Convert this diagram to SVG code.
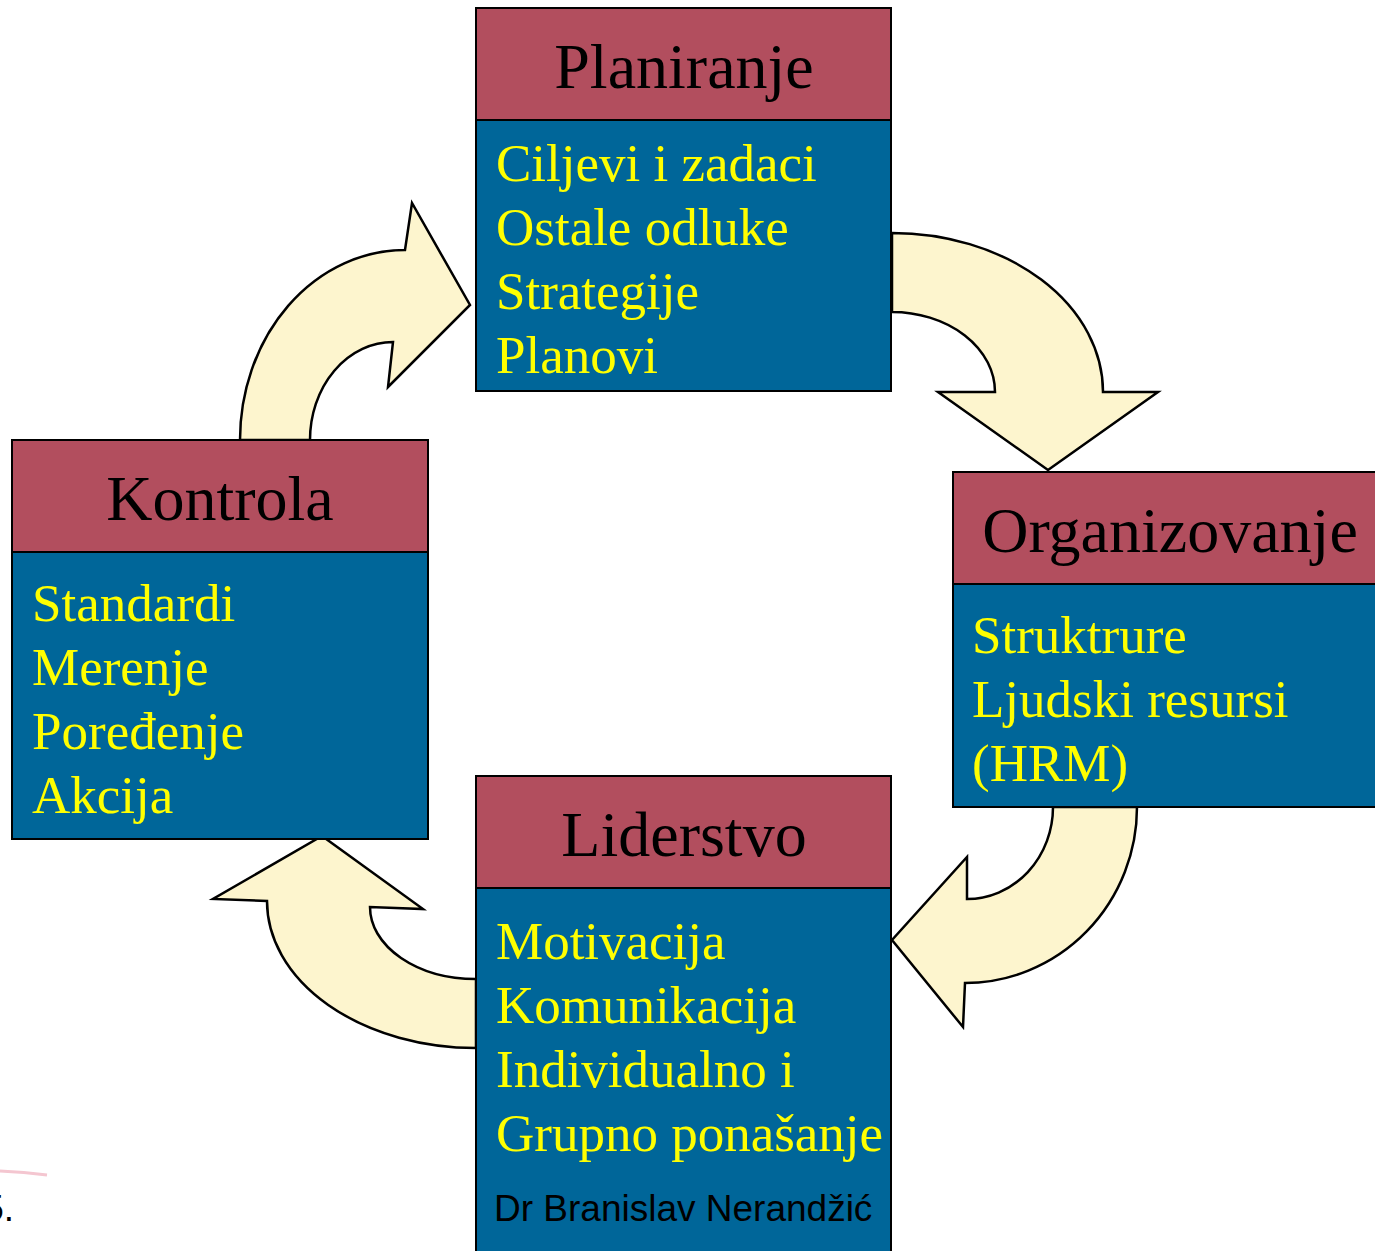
<svg xmlns="http://www.w3.org/2000/svg" width="1375" height="1251" viewBox="0 0 1375 1251">
<style>
.hdr{fill:#B24E5E;stroke:#000;stroke-width:2}
.body{fill:#006699;stroke:#000;stroke-width:2}
.arrow{fill:#FDF5CE;stroke:#000;stroke-width:2.5;stroke-linejoin:miter}
.ht{font-family:"Liberation Serif",serif;font-size:64px;fill:#000;text-anchor:middle}
.bt{font-family:"Liberation Serif",serif;font-size:53px;fill:#FFFF00}
.sig{font-family:"Liberation Sans",Arial,sans-serif;font-size:37px;fill:#000}
</style>
<rect width="1375" height="1251" fill="#fff"/>
<g id="connectors">
<path class="arrow" d="M240,440 A165,190 0 0 1 405,250 L412,203 L470,305 L388,387 L393,342 A83,98 0 0 0 310,440 Z"/>
<path class="arrow" d="M892,233 A211,159 0 0 1 1103,392 L1158,392 L1048,470 L938,392 L995,392 A103,80 0 0 0 892,312 Z"/>
<path class="arrow" d="M1137,807 A172,176 0 0 1 965,983 L963,1027 L892,940 L967,857 L967,899 A86,92 0 0 0 1053,807 Z"/>
<path class="arrow" d="M476,1048 A209,147 0 0 1 267,901 L213,899 L322,836 L423,909 L370,907 A106,72 0 0 0 476,979 Z"/>
</g>
<g id="planiranje">
<rect class="hdr" x="476" y="8" width="415" height="112"/>
<rect class="body" x="476" y="120" width="415" height="271"/>
<text class="ht" x="684" y="88">Planiranje</text>
<text class="bt" x="496" y="181">Ciljevi i zadaci</text>
<text class="bt" x="496" y="245">Ostale odluke</text>
<text class="bt" x="496" y="309">Strategije</text>
<text class="bt" x="496" y="373">Planovi</text>
</g>
<g id="organizovanje">
<rect class="hdr" x="953" y="472" width="440" height="112"/>
<rect class="body" x="953" y="584" width="440" height="223"/>
<text class="ht" x="1170" y="552">Organizovanje</text>
<text class="bt" x="972" y="653">Struktrure</text>
<text class="bt" x="972" y="717">Ljudski resursi</text>
<text class="bt" x="972" y="781">(HRM)</text>
</g>
<g id="kontrola">
<rect class="hdr" x="12" y="440" width="416" height="112"/>
<rect class="body" x="12" y="552" width="416" height="287"/>
<text class="ht" x="220" y="520">Kontrola</text>
<text class="bt" x="32" y="621">Standardi</text>
<text class="bt" x="32" y="685">Merenje</text>
<text class="bt" x="32" y="749">Poređenje</text>
<text class="bt" x="32" y="813">Akcija</text>
</g>
<g id="liderstvo">
<rect class="hdr" x="476" y="776" width="415" height="112"/>
<rect class="body" x="476" y="888" width="415" height="380"/>
<text class="ht" x="684" y="856">Liderstvo</text>
<text class="bt" x="496" y="959">Motivacija</text>
<text class="bt" x="496" y="1023">Komunikacija</text>
<text class="bt" x="496" y="1087">Individualno i</text>
<text class="bt" x="496" y="1151">Grupno ponašanje</text>
<text class="sig" x="494" y="1221">Dr Branislav Nerandžić</text>
</g>
<g id="footer">
<path d="M0,1171 Q24,1172 47,1175" fill="none" stroke="#F4C6D0" stroke-width="3"/>
<text class="sig" x="14" y="1221" text-anchor="end">5.</text>
</g>
</svg>
